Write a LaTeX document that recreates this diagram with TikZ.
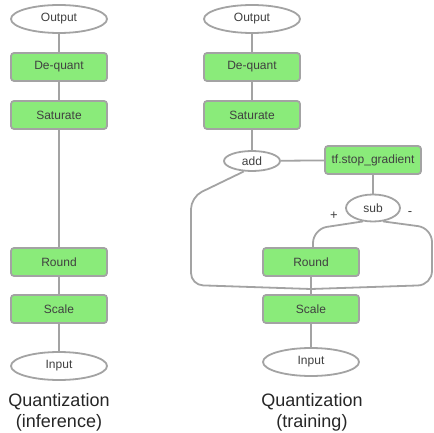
\documentclass[tikz,border=0pt]{standalone}
\usepackage{fontspec}
\setmainfont{Liberation Sans}
\usetikzlibrary{shapes.geometric}
\definecolor{boxgreen}{HTML}{8AEB7A}
\definecolor{edgegray}{HTML}{A3A3A3}
\definecolor{txtgray}{HTML}{404040}

\begin{document}
\begin{tikzpicture}[x=1pt, y=1pt,
        opbox/.style = {draw=edgegray, line width=1.8pt, fill=boxgreen, rounded corners=3pt,
                        minimum width=96pt, minimum height=28pt, inner sep=0pt,
                        font=\fontsize{12}{14}\selectfont, text=txtgray},
        io/.style    = {ellipse, draw=edgegray, line width=1.8pt, fill=white,
                        minimum width=96pt, minimum height=28pt, inner sep=0pt,
                        font=\fontsize{12}{14}\selectfont, text=txtgray},
        link/.style  = {draw=edgegray, line width=1.8pt},
        caption/.style = {align=center, font=\fontsize{18}{21}\selectfont, text=black!85}]
                    
                    \useasboundingbox (0,0) rectangle (434,-433);
                    
                    % inference graph
                    \node[io]    (out1) at (59,-19)  {Output};
                    \node[opbox] (dq1)  at (59,-67)  {De-quant};
                    \node[opbox] (sat1) at (59,-115) {Saturate};
                    \node[opbox] (rnd1) at (59,-262) {Round};
                    \node[opbox] (scl1) at (59,-309) {Scale};
                    \node[io]    (in1)  at (59,-366) {Input};
                    
                    \draw[link] (out1) -- (dq1);
                    \draw[link] (dq1) -- (sat1);
                    \draw[link] (sat1) -- (rnd1);
                    \draw[link] (rnd1) -- (scl1);
                    \draw[link] (scl1) -- (in1);
                    
                    % training graph
                    \node[io]    (out2) at (252,-19)  {Output};
                    \node[opbox] (dq2)  at (252,-67)  {De-quant};
                    \node[opbox] (sat2) at (252,-115) {Saturate};
                    \node[io, minimum width=56pt, minimum height=20pt] (add) at (252,-161) {add};
                    \node[opbox] (stop) at (373,-160) {tf.stop\_gradient};
                    \node[io, minimum width=54pt, minimum height=27pt] (sub) at (373,-208) {sub};
                    \node[opbox] (rnd2) at (311,-262) {Round};
                    \node[opbox] (scl2) at (311,-309) {Scale};
                    \node[io]    (in2)  at (311,-362) {Input};
                    \coordinate (join) at (311,-289);
                    
                    \draw[link] (out2) -- (dq2);
                    \draw[link] (dq2) -- (sat2);
                    \draw[link] (sat2) -- (add);
                    \draw[link] (add) -- (stop);
                    \draw[link] (stop) -- (sub);
                    \draw[link] (rnd2) -- (scl2);
                    \draw[link] (scl2) -- (in2);
                    
                    % skip paths round the rounding
                    \draw[link, rounded corners=12pt] (add.232) -- (191,-197) -- (191,-285) -- (join);
                    \draw[link, rounded corners=14pt] (sub.233) -- (313,-229) -- (313,-247);
                    \draw[link, rounded corners=14pt] (sub.307) -- (432,-228) -- (432,-285) -- (join);
                    
                    \node[text=txtgray, font=\fontsize{13}{13}\selectfont] (plus)  at (334,-216) {+};
                    \node[text=txtgray, font=\fontsize{13}{13}\selectfont] (minus) at (410,-214) {-};
                    
                    % captions
                    \node[caption] (cap1) at (59,-412)  {Quantization\\(inference)};
                    \node[caption] (cap2) at (312,-412) {Quantization\\(training)};
                    
                \end{tikzpicture}
\end{document}
